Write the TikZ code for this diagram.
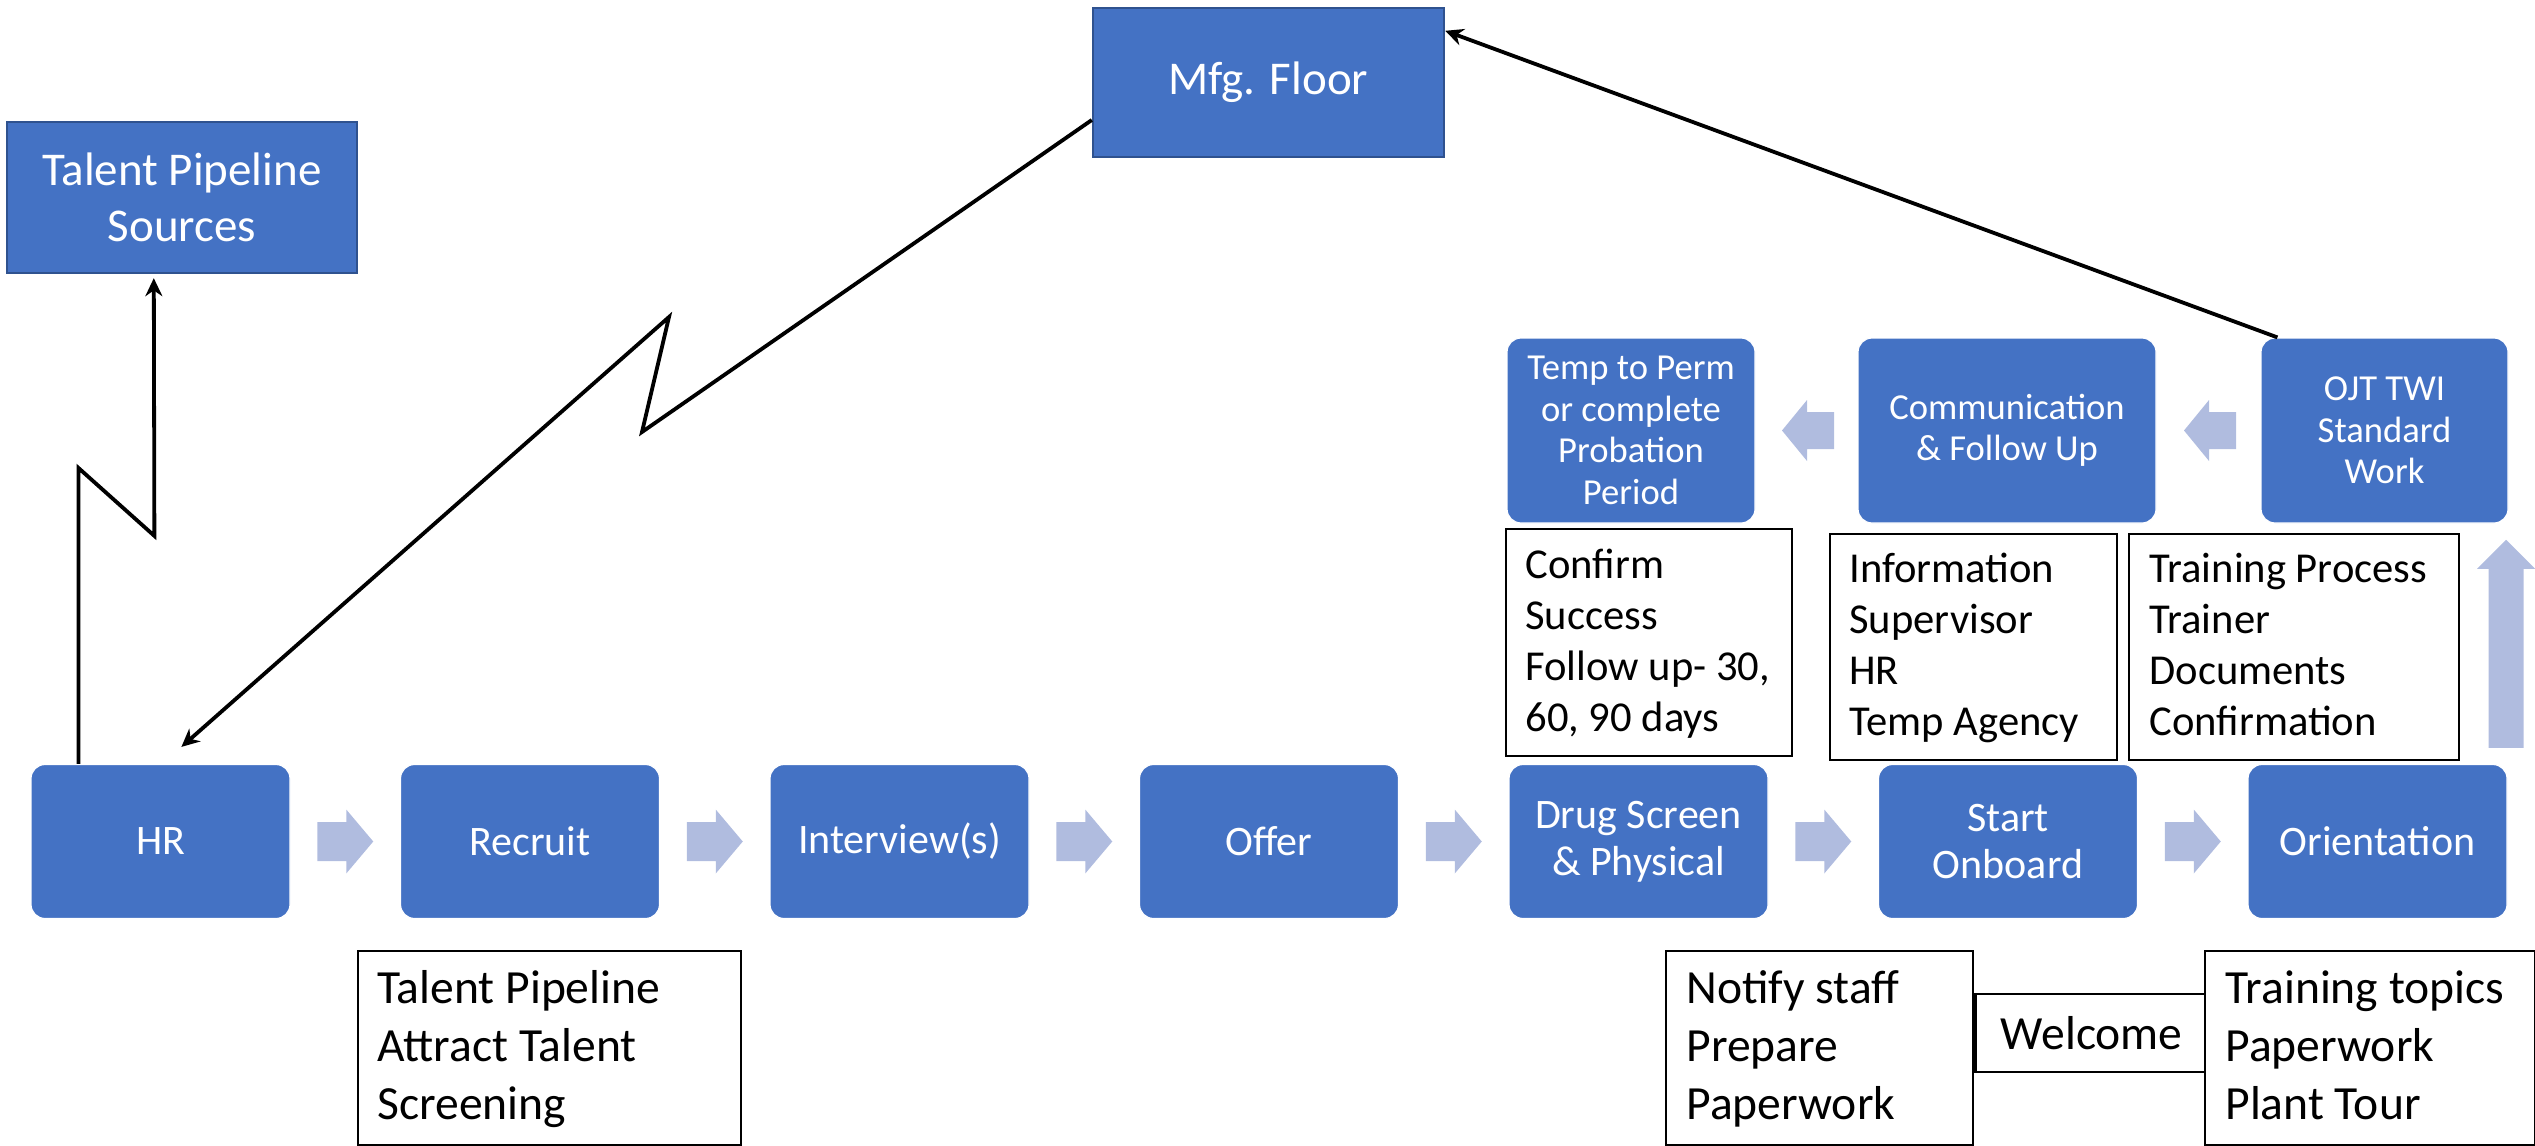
\documentclass[tikz,border=0pt]{standalone}
\usepackage{fontspec}
\setmainfont{Carlito}
\usetikzlibrary{arrows.meta,calc}
\definecolor{myblue}{HTML}{4472C4}
\definecolor{myborder}{HTML}{2F528F}
\definecolor{arrowblue}{HTML}{B0BCDF}
\begin{document}
\begin{tikzpicture}[x=0.5pt,y=-0.5pt,
  bluebox/.style={rounded corners=7pt, fill=myblue, draw=white, line width=0.6pt, text=white,
    align=center, inner sep=0pt, font=\fontsize{21}{23.5}\selectfont,
    minimum width=129.5pt, minimum height=77pt},
  topbox/.style={bluebox, font=\fontsize{18.3}{20.75}\selectfont, minimum height=92.5pt},
  sqbox/.style={fill=myblue, draw=myborder, line width=1.2pt, text=white, align=center,
    inner sep=0pt, font=\fontsize{23.5}{28}\selectfont},
  wbox/.style={draw=black, line width=1.2pt, fill=white, inner sep=0pt, anchor=north west},
  wtext/.style={anchor=base west, inner sep=0pt, font=\fontsize{21.3}{25.5}\selectfont},
  wtextb/.style={anchor=base west, inner sep=0pt, font=\fontsize{23.8}{29}\selectfont},
  conn/.style={line width=1.9pt, line join=miter, -{Stealth[length=9pt,width=8.5pt]}},
  rblk/.pic={\fill[arrowblue] (-28,-19.5) -- (1,-19.5) -- (1,-32) -- (28,0) -- (1,32) -- (1,19.5) -- (-28,19.5) -- cycle;},
  lblk/.pic={\fill[arrowblue] (-24.5,0) -- (0.5,-30.5) -- (0.5,-18.5) -- (27.5,-18.5) -- (27.5,18.5) -- (0.5,18.5) -- (0.5,30.5) -- cycle;},
  ublk/.pic={\fill[arrowblue] (0,-104) -- (29,-75) -- (17.5,-75) -- (17.5,104) -- (-17.5,104) -- (-17.5,-75) -- (-29,-75) -- cycle;}
]
\useasboundingbox (0,0) rectangle (2535,1145);

% top rectangles
\node[sqbox, minimum width=175pt, minimum height=75.5pt] (tps) at (182,197.5) {Talent Pipeline\\Sources};
\node[sqbox, minimum width=175.5pt, minimum height=74.5pt] (mfg) at (1268.5,82.5) {Mfg. Floor};

% bottom process row
\node[bluebox] (hr)  at (160.5,841.5) {HR};
\node[bluebox] (rec) at (530,841.5) {Recruit};
\node[bluebox] (int) at (899.5,841.5) {Interview(s)};
\node[bluebox] (off) at (1269,841.5) {Offer};
\node[bluebox] (drug) at (1638.5,841.5) {Drug Screen\\\& Physical};
\node[bluebox] (start) at (2008,841.5) {Start\\Onboard};
\node[bluebox] (ori) at (2377.5,841.5) {Orientation};

% top process row
\node[topbox, minimum width=124pt] (temp) at (1631,430.5) {Temp to Perm\\or complete\\Probation\\Period};
\node[topbox, minimum width=149pt] (comm) at (2007,430.5) {Communication\\\& Follow Up};
\node[topbox, minimum width=123.5pt] (ojt) at (2384.5,430.5) {OJT TWI\\Standard\\Work};

% block arrows
\pic at ($(hr.east)!.5!(rec.west)$) {rblk};
\pic at ($(rec.east)!.5!(int.west)$) {rblk};
\pic at ($(int.east)!.5!(off.west)$) {rblk};
\pic at ($(off.east)!.5!(drug.west)$) {rblk};
\pic at ($(drug.east)!.5!(start.west)$) {rblk};
\pic at ($(start.east)!.5!(ori.west)$) {rblk};
\pic at ($(temp.east)!.5!(comm.west)$) {lblk};
\pic at ($(comm.east)!.5!(ojt.west)$) {lblk};
\pic at ($($(ori.north east)!.5!(ojt.south east)$)+(-2,0)$) {ublk};

% white note boxes
\node[wbox, minimum width=143pt, minimum height=113.5pt] (n1) at (1505,528) {};
\node[wtext] (n1t) at ($(n1.north west)+(20,50)$) {\parbox[t]{138pt}{Confirm\\Success\\Follow up- 30,\\60, 90 days}};
\node[wbox, minimum width=143.5pt, minimum height=113pt] (n2) at (1829,533) {};
\node[wtext] (n2t) at ($(n2.north west)+(20,49)$) {\parbox[t]{138pt}{Information\\Supervisor\\HR\\Temp Agency}};
\node[wbox, minimum width=165pt, minimum height=113pt] (n3) at (2128,533) {};
\node[wtext] (n3t) at ($(n3.north west)+(21,49)$) {\parbox[t]{160pt}{Training Process\\Trainer\\Documents\\Confirmation}};

\node[wbox, minimum width=191.5pt, minimum height=97pt] (n4) at (357,950) {};
\node[wtextb] (n4t) at ($(n4.north west)+(20,53)$) {\parbox[t]{185pt}{Talent Pipeline\\Attract Talent\\Screening}};
\node[wbox, minimum width=153.5pt, minimum height=97pt] (n5) at (1665,950) {};
\node[wtextb] (n5t) at ($(n5.north west)+(21,53)$) {\parbox[t]{150pt}{Notify staff\\Prepare\\Paperwork}};
\node[wbox, minimum width=116pt, minimum height=39pt, font=\fontsize{23.8}{29}\selectfont] (n6) at (n5.east |- 0,993) {Welcome};
\node[wbox, minimum width=165pt, minimum height=97pt] (n7) at (2204,950) {};
\node[wtextb] (n7t) at ($(n7.north west)+(21,53)$) {\parbox[t]{165pt}{Training topics\\Paperwork\\Plant Tour}};

% connectors
\draw[conn] ($(hr.north west)+(48,0)$) -- ++(0,-296) -- ++(76,68) -- ($(tps.south west)+(148,4)$);
\draw[conn] ($(mfg.west)+(0,37.5)$) -- (642,432) -- (669,317) -- ($(hr.north west)+(151,-17)$);
\draw[conn] ($(ojt.north west)+(17,0)$) -- ($(mfg.north east)+(0,24)$);
\end{tikzpicture}
\end{document}
